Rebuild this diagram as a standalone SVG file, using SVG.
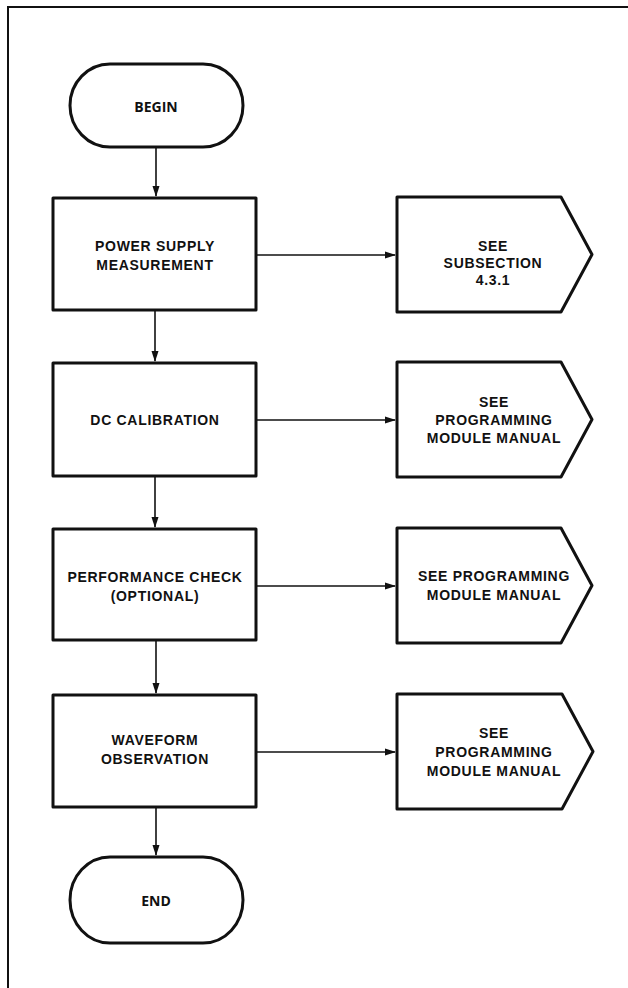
<svg xmlns="http://www.w3.org/2000/svg" width="628" height="988" viewBox="0 0 628 988">
<style>
.shape{fill:#fff;stroke:#111;stroke-width:3;stroke-linejoin:round}
.frame{fill:none;stroke:#111;stroke-width:2}
.conn{fill:none;stroke:#111;stroke-width:1.6}
text{font-family:"Liberation Sans",Arial,sans-serif;font-weight:bold;font-size:14px;fill:#111;text-anchor:middle;letter-spacing:0.7px}
.term{font-family:"Open Sans","Liberation Sans",sans-serif;letter-spacing:0}
</style>
<defs>
<marker id="ah" markerUnits="userSpaceOnUse" markerWidth="11" markerHeight="8" refX="10" refY="4" orient="auto">
<path d="M0,0.5 L11,4 L0,7.5 Z" fill="#111"/>
</marker>
</defs>
<rect width="628" height="988" fill="#fff"/>
<path class="frame" d="M8,988 L8,7 L628,7"/>
<g id="connectors">
<line class="conn" x1="156" y1="148" x2="156" y2="196" marker-end="url(#ah)"/>
<line class="conn" x1="155" y1="311" x2="155" y2="361" marker-end="url(#ah)"/>
<line class="conn" x1="155" y1="477" x2="155" y2="527" marker-end="url(#ah)"/>
<line class="conn" x1="156" y1="641" x2="156" y2="693" marker-end="url(#ah)"/>
<line class="conn" x1="156" y1="808" x2="156" y2="855" marker-end="url(#ah)"/>
<line class="conn" x1="257" y1="255" x2="395" y2="255" marker-end="url(#ah)"/>
<line class="conn" x1="257" y1="420" x2="395" y2="420" marker-end="url(#ah)"/>
<line class="conn" x1="257" y1="586" x2="395" y2="586" marker-end="url(#ah)"/>
<line class="conn" x1="257" y1="752" x2="395" y2="752" marker-end="url(#ah)"/>
</g>
<g id="begin">
<rect class="shape" x="70" y="64" width="173" height="83" rx="40" ry="41.5"/>
<text class="term" x="156" y="112">BEGIN</text>
</g>
<g id="power-supply">
<rect class="shape" x="53" y="198" width="203" height="112"/>
<text x="155" y="251">POWER SUPPLY</text>
<text x="155" y="270">MEASUREMENT</text>
</g>
<g id="dc-calibration">
<rect class="shape" x="53" y="363" width="203" height="113"/>
<text x="155" y="425">DC CALIBRATION</text>
</g>
<g id="performance-check">
<rect class="shape" x="53" y="529" width="203" height="111"/>
<text x="155" y="582">PERFORMANCE CHECK</text>
<text x="155" y="601">(OPTIONAL)</text>
</g>
<g id="waveform">
<rect class="shape" x="53" y="695" width="203" height="112"/>
<text x="155" y="745">WAVEFORM</text>
<text x="155" y="764">OBSERVATION</text>
</g>
<g id="end">
<rect class="shape" x="70" y="857" width="173" height="86" rx="40" ry="43"/>
<text class="term" x="156" y="906">END</text>
</g>
<g id="see-subsection">
<path class="shape" d="M397,197 L561,197 L592,254.5 L561,312 L397,312 Z"/>
<text x="493" y="251">SEE</text>
<text x="493" y="268">SUBSECTION</text>
<text x="493" y="285">4.3.1</text>
</g>
<g id="see-manual-1">
<path class="shape" d="M397,362 L561,362 L592,419.5 L561,477 L397,477 Z"/>
<text x="494" y="407">SEE</text>
<text x="494" y="425">PROGRAMMING</text>
<text x="494" y="443">MODULE MANUAL</text>
</g>
<g id="see-manual-2">
<path class="shape" d="M397,528 L561,528 L592,585.5 L561,643 L397,643 Z"/>
<text x="494" y="581">SEE PROGRAMMING</text>
<text x="494" y="600">MODULE MANUAL</text>
</g>
<g id="see-manual-3">
<path class="shape" d="M397,694 L562,694 L593,751.5 L562,809 L397,809 Z"/>
<text x="494" y="738">SEE</text>
<text x="494" y="757">PROGRAMMING</text>
<text x="494" y="776">MODULE MANUAL</text>
</g>
</svg>
